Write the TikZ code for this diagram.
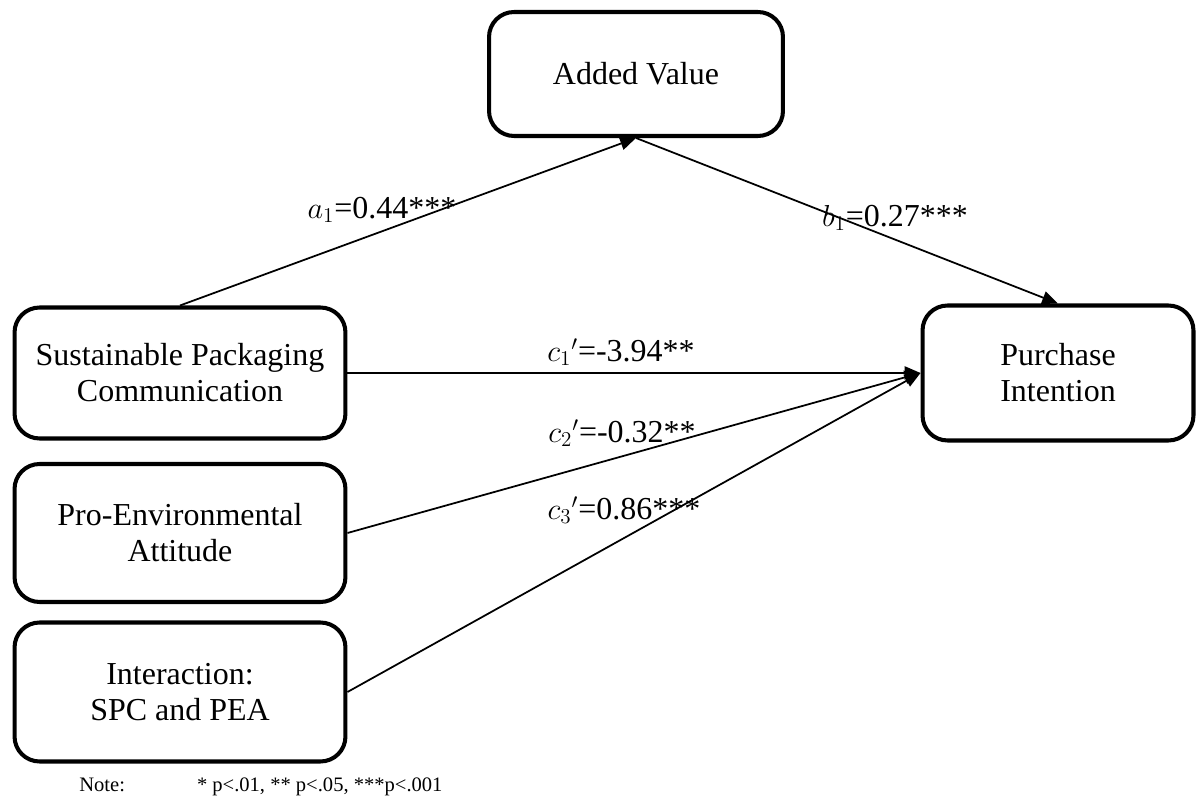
\documentclass[tikz,border=0pt]{standalone}
\usepackage{fontspec}
\setmainfont{Liberation Serif}
\usetikzlibrary{arrows.meta}
\tikzset{
	varbox/.style={draw, line width=2.3pt, rounded corners=0.5cm, align=center, font=\fontsize{18.2}{20.5}\selectfont},
	link/.style={-{Triangle[length=9pt,width=7.5pt]}, line width=1pt},
	coef/.style={font=\fontsize{18.2}{20.5}\selectfont}
}
\begin{document}
\begin{tikzpicture}[x=0.02cm,y=-0.02cm]
		\useasboundingbox (0,0) rectangle (1198,800);
		%mediator and outcome
		\node[varbox, minimum width=5.88cm, minimum height=2.48cm] (av) at (636,74) {Added Value};
		\node[varbox, minimum width=5.42cm, minimum height=2.7cm] (pi) at (1058,373) {Purchase\\Intention};
		%predictors down the side
		\node[varbox, minimum width=6.62cm, minimum height=2.62cm] (spc) at (180,373) {Sustainable Packaging\\Communication};
		\node[varbox, minimum width=6.62cm, minimum height=2.76cm] (pea) at (180,533) {Pro-Environmental\\Attitude};
		\node[varbox, minimum width=6.62cm, minimum height=2.78cm] (inter) at (180,692) {Interaction:\\SPC and PEA};
		%paths
		\draw[link] (spc.north) to (av.south);
		\draw[link] (av.south) to (pi.north);
		\draw[link] (spc.east) to (pi.west);
		\draw[link] (pea.east) to (pi.west);
		\draw[link] (inter.east) to (pi.west);
		%coefficients
		\node[coef] (a1) at (382,210) {$a_1$=0.44***};
		\node[coef] (b1) at (895,218) {$b_1$=0.27***};
		\node[coef] (c1) at (621,352) {${c_1}'$=-3.94**};
		\node[coef] (c2) at (622,433) {${c_2}'$=-0.32**};
		\node[coef] (c3) at (624,510) {${c_3}'$=0.86***};
		%note
		\node[font=\fontsize{11.7}{14}\selectfont, anchor=west, inner sep=0pt] (note) at (79,787) {Note:\hspace{1.44cm}* p<.01, ** p<.05, ***p<.001};
	\end{tikzpicture}
\end{document}
